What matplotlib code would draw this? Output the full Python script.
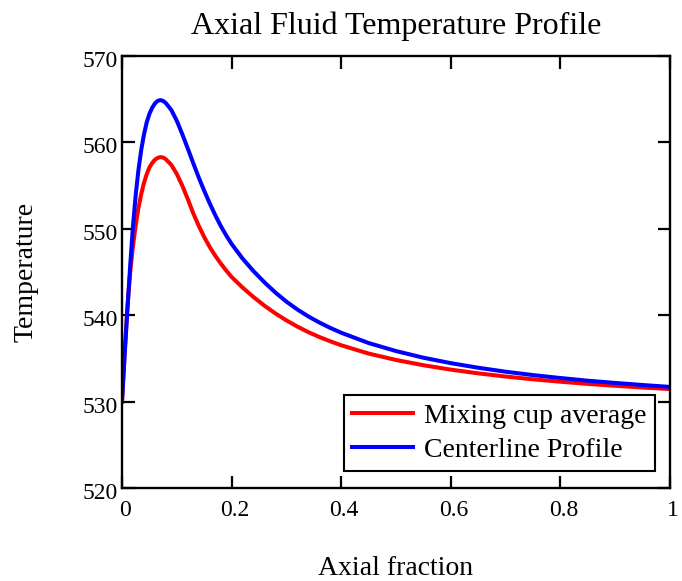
import matplotlib
matplotlib.use("Agg")
import matplotlib.pyplot as plt
import matplotlib.transforms as mtransforms

# ---- data ----
x_frac = [0.0, 0.005, 0.01, 0.015, 0.02, 0.025, 0.03, 0.035, 0.04, 0.045, 0.05,
          0.055, 0.06, 0.065, 0.07, 0.075, 0.08, 0.09, 0.10, 0.11, 0.12, 0.13,
          0.14, 0.15, 0.16, 0.17, 0.18, 0.19, 0.20, 0.22, 0.24, 0.26, 0.28,
          0.30, 0.32, 0.34, 0.36, 0.38, 0.40, 0.45, 0.50, 0.55, 0.60, 0.65,
          0.70, 0.75, 0.80, 0.85, 0.90, 0.95, 1.00]
mixing_cup = [530.0, 536.0, 541.0, 545.0, 548.0, 550.4, 552.4, 554.0, 555.3, 556.3, 557.1,
              557.6, 558.0, 558.2, 558.3, 558.25, 558.05, 557.4, 556.35, 555.0, 553.45, 551.8,
              550.35, 549.05, 547.9, 546.9, 546.0, 545.18, 544.43, 543.2, 542.1, 541.1, 540.2,
              539.4, 538.68, 538.04, 537.48, 536.98, 536.52, 535.56, 534.82, 534.21, 533.70, 533.27,
              532.90, 532.58, 532.30, 532.05, 531.83, 531.63, 531.45]
centerline = [530.0, 535.5, 540.8, 545.8, 550.3, 553.9, 556.8, 559.1, 560.9, 562.3, 563.3,
              564.0, 564.5, 564.8, 564.9, 564.8, 564.55, 563.75, 562.5, 560.95, 559.3, 557.6,
              555.95, 554.4, 552.95, 551.6, 550.35, 549.25, 548.25, 546.55, 545.1, 543.8, 542.62,
              541.57, 540.66, 539.86, 539.16, 538.53, 537.97, 536.78, 535.85, 535.08, 534.45, 533.92,
              533.46, 533.07, 532.73, 532.42, 532.16, 531.92, 531.70]

x_ticks = [0, 0.2, 0.4, 0.6, 0.8, 1.0]
x_tick_labels = ["0", "0.2", "0.4", "0.6", "0.8", "1"]
y_ticks = [520, 530, 540, 550, 560, 570]
y_tick_labels = ["520", "530", "540", "550", "560", "570"]

series_labels = ["Mixing cup average", "Centerline Profile"]
title = "Axial Fluid Temperature Profile"
xlabel = "Axial fraction"
ylabel = "Temperature"

plt.rcParams['font.family'] = ['Liberation Serif', 'DejaVu Serif']

fig = plt.figure(figsize=(6.82, 5.81), dpi=100)
ax = fig.add_axes([122/682, 1 - 488/581, (670-122)/682, (488-56)/581])

ax.plot(x_frac, mixing_cup, color="#ff0000", lw=2.9, label=series_labels[0],
        solid_joinstyle='round')
ax.plot(x_frac, centerline, color="#0000ff", lw=2.9, label=series_labels[1],
        solid_joinstyle='round')

ax.set_xlim(0, 1)
ax.set_ylim(520, 570)
ax.set_xticks(x_ticks)
ax.set_xticklabels(x_tick_labels)
ax.set_yticks(y_ticks)
ax.set_yticklabels(y_tick_labels)

for s in ax.spines.values():
    s.set_linewidth(1.7)
    s.set_color("black")

ax.tick_params(axis='both', which='major', direction='in', length=9, width=1.6,
               top=True, right=True, labelsize=17, colors='black')
ax.tick_params(axis='x', pad=9)
ax.tick_params(axis='y', pad=3)

# slight offsets like the reference
offx = mtransforms.ScaledTranslation(3/100, 0, fig.dpi_scale_trans)
for lab in ax.get_xticklabels():
    lab.set_transform(lab.get_transform() + offx)
offy = mtransforms.ScaledTranslation(0, -3/100, fig.dpi_scale_trans)
for lab in ax.get_yticklabels():
    lab.set_transform(lab.get_transform() + offy)

ax.set_title(title, fontsize=23, pad=16)
ax.set_xlabel(xlabel, fontsize=20, labelpad=25)
ax.set_ylabel(ylabel, fontsize=20, labelpad=32)

leg = ax.legend(loc='lower right', bbox_to_anchor=((655-122)/548, (488-471)/432),
                fontsize=20, frameon=True, fancybox=False, edgecolor='black',
                framealpha=1, borderpad=0.3, labelspacing=0.3, handlelength=2.2,
                handletextpad=0.4, borderaxespad=0)
leg.get_frame().set_linewidth(1.5)

fig.savefig("out.png", dpi=100)
